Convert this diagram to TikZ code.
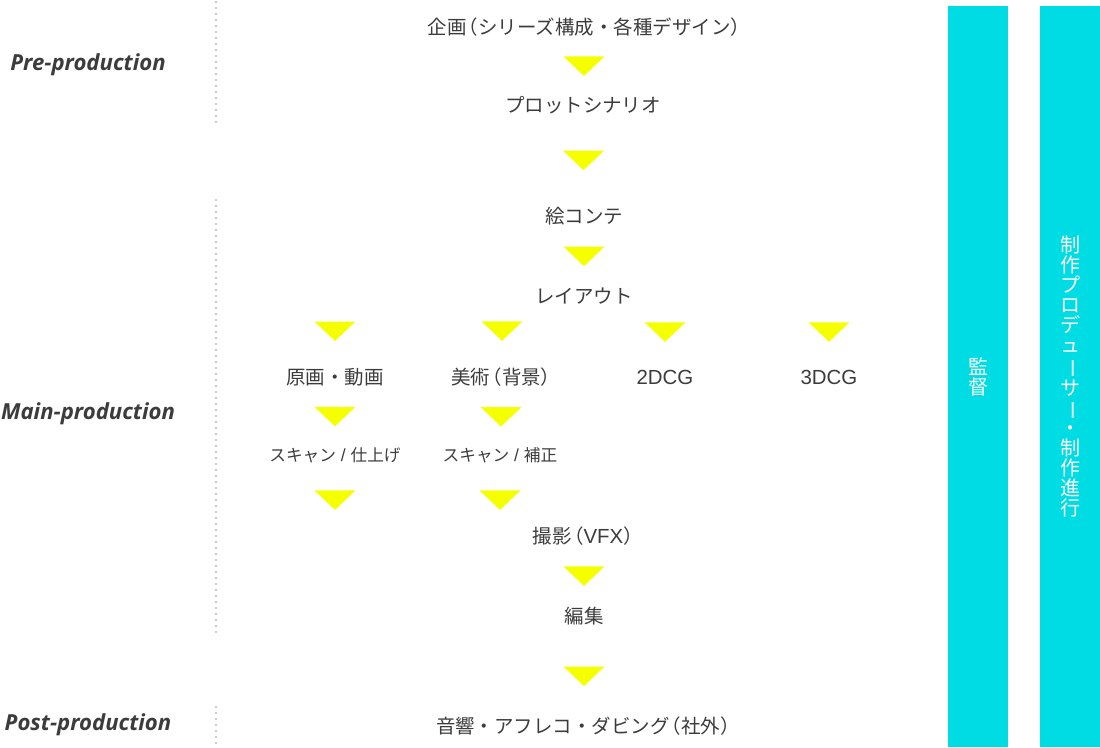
\documentclass[tikz,border=0pt]{standalone}
\usepackage{fontspec}
\setmainfont{Noto Sans CJK JP}
\newfontfamily\phasefont{Open Sans}
\newfontfamily\latinfont{Liberation Sans}[Scale=1.05]
\usepackage{graphicx}
\definecolor{flowyellow}{RGB}{245,255,0}
\definecolor{barcyan}{RGB}{0,220,227}
\definecolor{textgray}{RGB}{60,60,60}
\definecolor{dotgray}{RGB}{185,185,185}
\usetikzlibrary{calc}
\newcommand{\tatebar}{\rotatebox[origin=c]{-90}{ー}}
\newcommand{\jpopen}{\kern-.4em（}
\newcommand{\jpclose}{）\kern-.4em}

\begin{document}
\begin{tikzpicture}[
  x=0.75pt,y=-0.75pt,
  flow/.style={text=textgray,font=\fontsize{14.6}{16}\selectfont,inner sep=1pt},
  subflow/.style={flow,font=\fontsize{12.5}{14}\selectfont},
  flowtri/.style={minimum width=30.75pt,minimum height=14.6pt,inner sep=0pt,
    path picture={\fill[flowyellow] (path picture bounding box.north west)
      -- (path picture bounding box.north east)
      -- (path picture bounding box.south) -- cycle;}},
  phase/.style={text=textgray,font=\phasefont\bfseries\itshape\fontsize{16.6}{18}\selectfont},
  bar/.style={fill=barcyan,minimum width=45pt,minimum height=555.75pt,inner sep=0pt,
    text=white,align=center,font=\fontsize{15}{15}\selectfont},
  dots/.style={dotgray,line width=1.8pt,line cap=round,dash pattern=on 0pt off 4.5pt}
]
\useasboundingbox (0,0) rectangle (1100,747);

% phases
\node[phase] (pre) at (88,65) {Pre-production};
\node[phase] (main) at (88,414) {Main-production};
\node[phase] (post) at (88,725) {Post-production};
\draw[dots] (216,2) -- (216,124);
\draw[dots] (216,200) -- (216,635);
\draw[dots] (216,707) -- (216,745);

% flow
\node[flow] (kikaku) at (585,27) {企画\jpopen シリーズ構成・各種デザイン\jpclose};
\node[flow] (plot) at (583,105) {プロットシナリオ};
\node[flow] (ekonte) at (584,216) {絵コンテ};
\node[flow] (layout) at (584,296) {レイアウト};
\node[flow] (genga) at (335,377) {原画・動画};
\node[flow] (bijutsu) at (502,377) {美術\jpopen 背景\jpclose};
\node[flow] (cg2) at (665,377) {\latinfont 2DCG};
\node[flow] (cg3) at (829,377) {\latinfont 3DCG};
\node[subflow] (scan1) at (335,455) {スキャン{\latinfont\ /\ }仕上げ};
\node[subflow] (scan2) at (500,455) {スキャン{\latinfont\ /\ }補正};
\node[flow] (satsuei) at (584,536) {撮影\jpopen{\latinfont VFX}\jpclose};
\node[flow] (henshu) at (584,616) {編集};
\node[flow] (onkyo) at (584,726) {音響・アフレコ・ダビング\jpopen 社外\jpclose};

\path (kikaku) -- node[flowtri] {} (plot);
\path (plot) -- node[flowtri] {} (ekonte);
\path (ekonte) -- node[flowtri] {} (layout);
\path (genga |- layout) -- node[flowtri] {} (genga);
\path (bijutsu |- layout) -- node[flowtri] {} (bijutsu);
\path (cg2 |- layout) -- node[flowtri] {} (cg2);
\path (cg3 |- layout) -- node[flowtri] {} (cg3);
\path (genga) -- node[flowtri] {} (scan1);
\path (bijutsu) -- node[flowtri] {} (scan2);
\path (scan1) -- node[flowtri] {} (scan1 |- satsuei);
\path (scan2) -- node[flowtri] {} (scan2 |- satsuei);
\path (satsuei) -- node[flowtri] {} (henshu);
\path (henshu) -- node[flowtri] {} (henshu |- onkyo);

% staff
\node[bar] (kantoku) at (978,376.5) {監\\督};
\node[bar] (producer) at (1070,376.5) {制\\作\\プ\\ロ\\デ\\ュ\\\tatebar\\サ\\\tatebar\\・\\制\\作\\進\\行};
\end{tikzpicture}
\end{document}
